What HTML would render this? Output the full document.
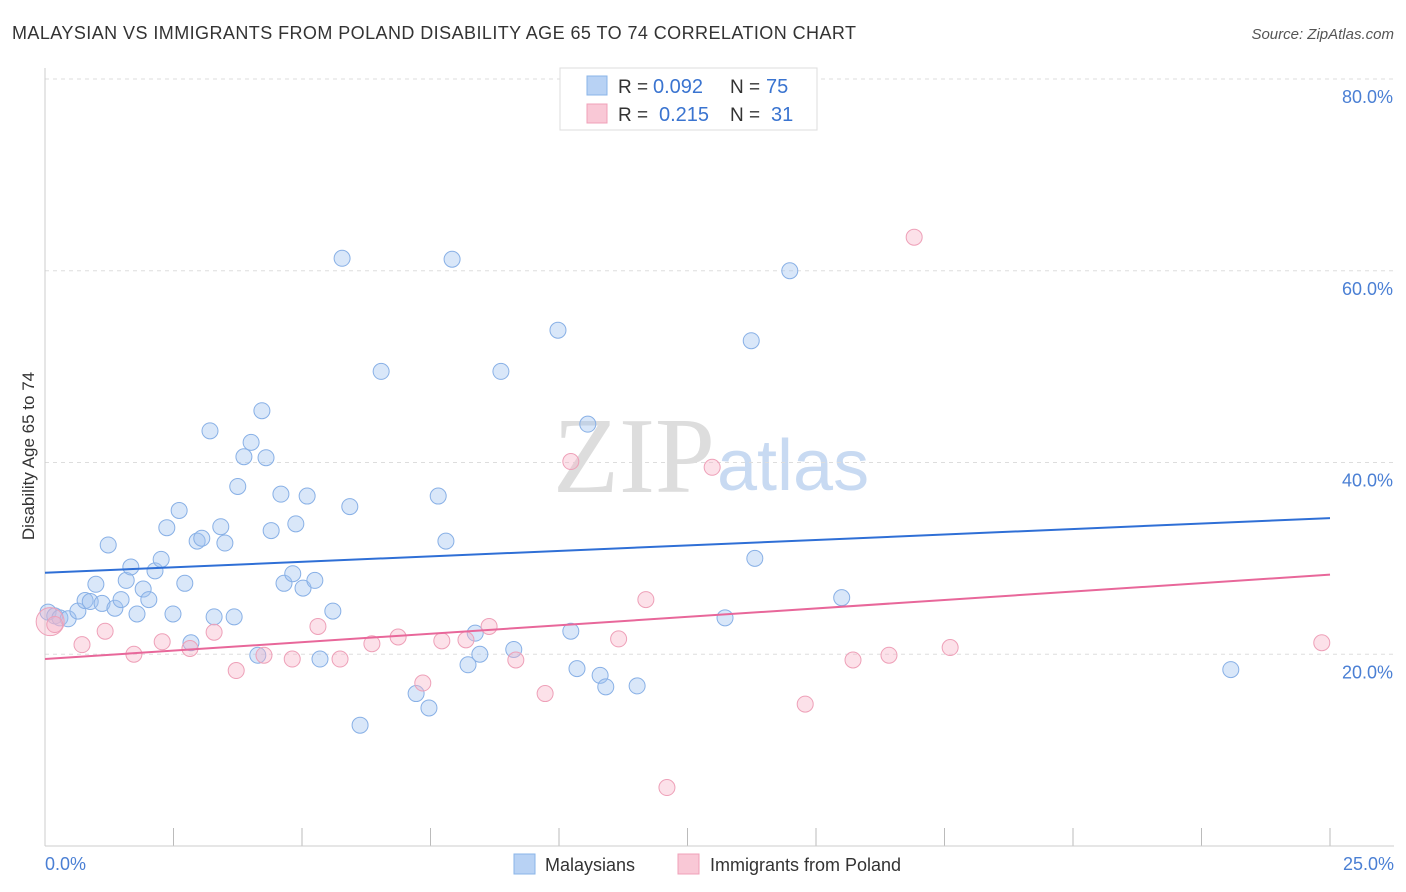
<!DOCTYPE html>
<html><head><meta charset="utf-8"><style>
body{margin:0;background:#fff;font-family:"Liberation Sans",sans-serif;}
svg{display:block}
</style></head><body>
<svg id="chart" width="1406" height="892">
<text x="12" y="39" font-size="18" fill="#333" textLength="844">MALAYSIAN VS IMMIGRANTS FROM POLAND DISABILITY AGE 65 TO 74 CORRELATION CHART</text>
<text x="1394" y="39" font-size="15" fill="#555" font-style="italic" text-anchor="end">Source: ZipAtlas.com</text>
<text x="553" y="492" font-size="108" fill="#ddd" textLength="162" font-family="Liberation Serif">ZIP</text>
<text x="717" y="490" font-size="72" fill="#c8daf2">atlas</text>
<g id="grid"></g>
<line x1="45" y1="68" x2="45" y2="846" stroke="#ccc"/>
<line x1="45" y1="846" x2="1394" y2="846" stroke="#ccc"/>
<text transform="translate(34,456) rotate(-90)" font-size="17" fill="#333" text-anchor="middle">Disability Age 65 to 74</text>
<text x="45" y="870" font-size="18" fill="#4a7fd4">0.0%</text>
<text x="1394" y="870" font-size="18" fill="#4a7fd4" text-anchor="end">25.0%</text>
<g id="marks"></g>
<g>
<rect x="560" y="68" width="257" height="62" fill="#fff" stroke="#ddd"/>
<rect x="587" y="76" width="20" height="19" fill="#b8d2f4" stroke="#8ab4e8"/>
<rect x="587" y="104" width="20" height="19" fill="#f9c8d6" stroke="#f0a0b8"/>
<text x="618" y="93" font-size="19" fill="#333">R =</text>
<text x="653" y="93" font-size="20" fill="#3a74d0">0.092</text>
<text x="730" y="93" font-size="19" fill="#333">N =</text>
<text x="766" y="93" font-size="20" fill="#3a74d0">75</text>
<text x="618" y="121" font-size="19" fill="#333">R =</text>
<text x="659" y="121" font-size="20" fill="#3a74d0">0.215</text>
<text x="730" y="121" font-size="19" fill="#333">N =</text>
<text x="771" y="121" font-size="20" fill="#3a74d0">31</text>
</g>
<g>
<rect x="514" y="854" width="21" height="20" fill="#b8d2f4" stroke="#8ab4e8"/>
<text x="545" y="871" font-size="18" fill="#333">Malaysians</text>
<rect x="678" y="854" width="21" height="20" fill="#f9c8d6" stroke="#f0a0b8"/>
<text x="710" y="871" font-size="18" fill="#333">Immigrants from Poland</text>
</g>
</svg>
<script>
const yTicks=[20,40,60,80];
const xTicks=[0,2.5,5,7.5,10,12.5,15,17.5,20,22.5,25];
const blueX=[0.06,0.19,0.29,0.45,0.64,0.78,0.88,0.99,1.11,1.23,1.36,1.48,1.58,1.67,1.79,1.91,2.02,2.14,2.26,2.37,2.49,2.61,2.72,2.84,2.96,3.05,3.21,3.29,3.42,3.50,3.68,3.75,3.87,4.01,4.14,4.22,4.30,4.40,4.59,4.65,4.82,4.88,5.02,5.10,5.25,5.35,5.60,5.78,5.93,6.13,6.54,7.22,7.47,7.65,7.80,7.92,8.23,8.37,8.46,8.87,9.12,9.98,10.23,10.35,10.56,10.80,10.91,11.52,13.23,13.74,13.81,14.49,15.50,23.07];
const blueY=[24.4,24.0,23.8,23.7,24.5,25.6,25.5,27.3,25.3,31.4,24.8,25.7,27.7,29.1,24.2,26.8,25.7,28.7,29.9,33.2,24.2,35.0,27.4,21.2,31.8,32.1,43.3,23.9,33.3,31.6,23.9,37.5,40.6,42.1,19.9,45.4,40.5,32.9,36.7,27.4,28.4,33.6,26.9,36.5,27.7,19.5,24.5,61.3,35.4,12.6,49.5,15.9,14.4,36.5,31.8,61.2,18.9,22.2,20.0,49.5,20.5,53.8,22.4,18.5,44.0,17.8,16.6,16.7,23.8,52.7,30.0,60.0,25.9,18.4];
const pinkX=[0.10,0.19,0.72,1.17,1.73,2.28,2.82,3.29,3.72,4.26,4.81,5.31,5.74,6.36,6.87,7.35,7.72,8.19,8.64,9.16,9.73,10.23,11.16,11.69,12.10,12.98,14.79,15.72,16.42,16.91,17.61,24.84];
const pinkY=[23.4,23.1,21.0,22.4,20.0,21.3,20.6,22.3,18.3,19.9,19.5,22.9,19.5,21.1,21.8,17.0,21.4,21.5,22.9,19.4,15.9,40.1,21.6,25.7,6.1,39.5,14.8,19.4,19.9,63.5,20.7,21.2];
const blueLine=[28.5,34.2], pinkLine=[19.5,28.3];
const X=v=>45+v/25*1285, Y=v=>846-v/20*191.75;
const NS='http://www.w3.org/2000/svg';
const grid=document.getElementById('grid'), marks=document.getElementById('marks');
yTicks.forEach(t=>{
 const l=document.createElementNS(NS,'line');
 l.setAttribute('x1',45);l.setAttribute('x2',1394);l.setAttribute('y1',Y(t));l.setAttribute('y2',Y(t));
 l.setAttribute('stroke','#ddd');l.setAttribute('stroke-dasharray','4,4');
 
 
 grid.appendChild(l);
 const tx=document.createElementNS(NS,'text');
 tx.setAttribute('x',1393);tx.setAttribute('y',Y(t)+24);tx.setAttribute('text-anchor','end');
 tx.setAttribute('font-size','18');tx.setAttribute('fill','#4a7fd4');tx.textContent=t.toFixed(1)+'%';
 
 
 grid.appendChild(tx);
});
xTicks.forEach(t=>{
 const l=document.createElementNS(NS,'line');
 l.setAttribute('x1',X(t));l.setAttribute('x2',X(t));l.setAttribute('y1',828);l.setAttribute('y2',846);
 l.setAttribute('stroke','#bbb');
 
 
 grid.appendChild(l);
});
function dots(xs,ys,fill,stroke,name){
 xs.forEach((x,i)=>{
  const c=document.createElementNS(NS,'circle');
  c.setAttribute('cx',X(x));c.setAttribute('cy',Y(ys[i]));
  c.setAttribute('r',(name==='pink-point'&&i===0)?14:8);
  c.setAttribute('fill',fill);c.setAttribute('stroke',stroke);c.setAttribute('stroke-width','1');
  
  
  marks.appendChild(c);
 });
}
dots(blueX,blueY,'rgba(160,196,240,0.4)','#88b0e6','blue-point');
dots(pinkX,pinkY,'rgba(248,180,200,0.4)','#eea0b8','pink-point');
function trend(v,color,name){
 const l=document.createElementNS(NS,'line');
 l.setAttribute('x1',X(0));l.setAttribute('x2',X(25));l.setAttribute('y1',Y(v[0]));l.setAttribute('y2',Y(v[1]));
 l.setAttribute('stroke',color);l.setAttribute('stroke-width','2');
 
 
 marks.appendChild(l);
}
trend(blueLine,'#2f6fd6','malaysians-trendline');
trend(pinkLine,'#e8679a','poland-trendline');
</script>
</body></html>
